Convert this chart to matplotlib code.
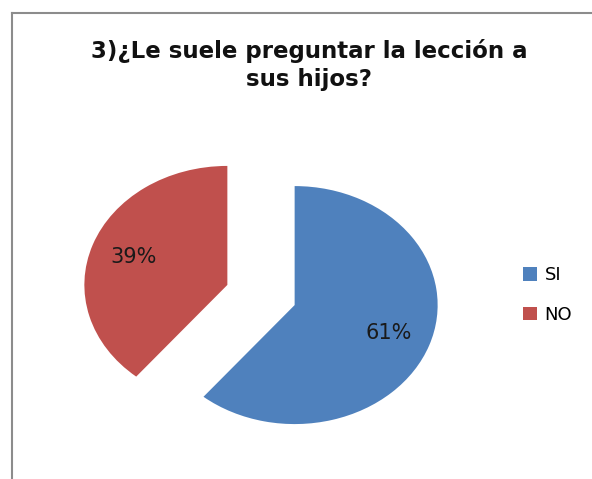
import matplotlib
matplotlib.use("Agg")
import matplotlib.pyplot as plt
from matplotlib.lines import Line2D
from matplotlib.patches import Patch

# data
categories = ["SI", "NO"]
values = [61, 39]
colors = ["#4F81BD", "#C0504D"]
title = "3)¿Le suele preguntar la lección a\nsus hijos?"

W, H = 592, 479
fig = plt.figure(figsize=(W / 100, H / 100), dpi=100)

# pie axes, stretched so the pie comes out as an ellipse like the original
cx, cy = 261, 295     # pie centre in pixels (from top)
rx, ry = 143, 119     # radii in pixels
ax = fig.add_axes([(cx - 1.5 * rx) / W, (H - cy - 1.5 * ry) / H,
                   3 * rx / W, 3 * ry / H])
wedges, texts, autotexts = ax.pie(
    values, colors=colors, startangle=90, counterclock=False,
    explode=[0.25, 0.25], autopct="%1.0f%%", pctdistance=0.7,
    textprops={"fontsize": 15, "color": "#1a1a1a", "family": "DejaVu Sans"},
)
ax.set_aspect("auto")
ax.set_xlim(-1.5, 1.5)
ax.set_ylim(-1.5, 1.5)
ax.axis("off")

fig.text(309 / W, 1 - 65 / H, title, ha="center", va="center",
         fontsize=16.5, fontweight="bold", family="DejaVu Sans",
         color="#111111", linespacing=1.25)

handles = [Patch(facecolor=c, edgecolor="none") for c in colors]
fig.legend(handles, categories, loc="center left",
           bbox_to_anchor=(523 / W, 1 - 295 / H), frameon=False,
           prop={"family": "DejaVu Sans", "size": 13},
           handlelength=0.8, handleheight=0.8, handletextpad=0.4,
           labelspacing=1.2, borderpad=0, borderaxespad=0)

# chart border (only top and left visible in the crop)
border = "#8c8c8c"
fig.add_artist(Line2D([12 / W, 1], [1 - 13 / H, 1 - 13 / H], color=border,
                      lw=1.5, transform=fig.transFigure))
fig.add_artist(Line2D([12 / W, 12 / W], [0, 1 - 13 / H], color=border,
                      lw=1.5, transform=fig.transFigure))

fig.savefig("out.png", dpi=100, facecolor="white")
